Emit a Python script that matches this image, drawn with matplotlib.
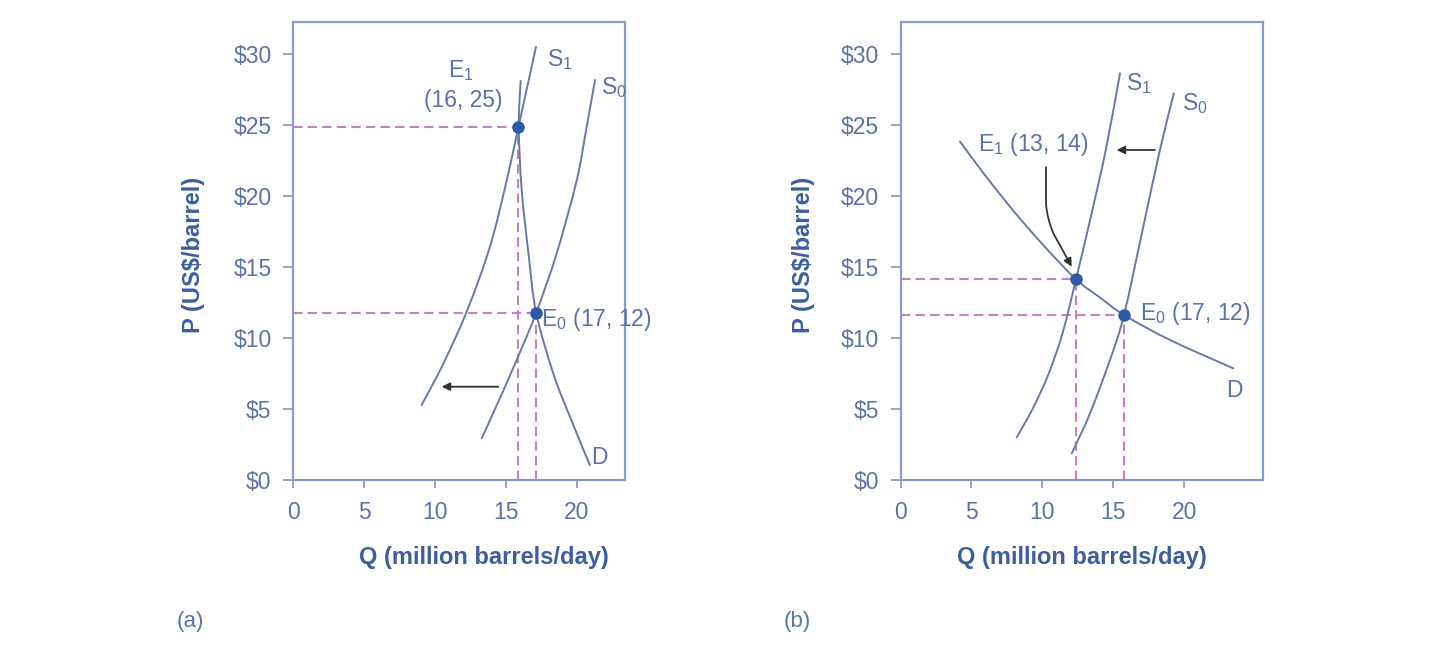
import matplotlib
matplotlib.use("Agg")
import matplotlib.pyplot as plt
from matplotlib.path import Path
from matplotlib.patches import PathPatch

plt.rcParams['font.family'] = ['Liberation Sans', 'DejaVu Sans']
plt.rcParams['mathtext.fontset'] = 'custom'
plt.rcParams['mathtext.rm'] = 'Liberation Sans'

# ---------------- data ----------------
x_ticks = [0, 5, 10, 15, 20]
x_tick_labels = ['0', '5', '10', '15', '20']
y_ticks = [0, 5, 10, 15, 20, 25, 30]
y_tick_labels = ['$0', '$5', '$10', '$15', '$20', '$25', '$30']

# panel (a)
a_s1_q = [9.06, 10.59, 12.23, 13.87, 15.05, 15.87, 16.5, 17.11]
a_s1_p = [5.28, 8.2, 11.85, 16.43, 21.1, 24.84, 27.7, 30.5]
a_s0_q = [13.29, 14.5, 15.75, 17.11, 18.57, 19.98, 20.65, 21.27]
a_s0_p = [2.93, 5.6, 8.45, 11.74, 15.96, 21.1, 24.7, 28.17]
a_d_q = [16.03, 15.9, 16.1, 16.6, 17.13, 18.33, 19.5, 20.9]
a_d_p = [28.1, 24.88, 20.5, 15.8, 11.75, 7.5, 4.46, 1.06]
a_e1 = (15.87, 24.88)
a_e0 = (17.13, 11.75)
a_arrow = ((14.46, 6.57), (10.47, 6.57))

# panel (b)
b_s1_q = [8.18, 9.3, 10.4, 11.4, 12.36, 13.35, 14.45, 15.46]
b_s1_p = [3.0, 5.0, 7.4, 10.3, 14.13, 18.3, 23.2, 28.64]
b_s0_q = [12.06, 13.35, 14.75, 15.74, 17.1, 18.27, 19.25]
b_s0_p = [1.88, 4.7, 8.45, 11.62, 17.84, 23.24, 27.23]
b_d_q = [4.19, 6.0, 8.0, 10.0, 12.36, 14.05, 15.74, 18.98, 23.44]
b_d_p = [23.83, 21.4, 18.9, 16.6, 14.13, 12.85, 11.62, 9.86, 7.86]
b_e1 = (12.36, 14.13)
b_e0 = (15.74, 11.62)
b_arrow = ((17.92, 23.24), (15.22, 23.24))
b_pointer_q = [10.25, 10.25, 10.35, 10.8, 12.06]
b_pointer_p = [22.07, 19.4, 18.3, 17.3, 15.02]

# ---------------- style ----------------
curve_c = '#6a78a8'
spine_c = '#8a9bcb'
tick_c = '#5a72a8'
label_c = '#3d5e9e'
dot_c = '#2e5ba8'
dash_c = '#c47fc8'
arrow_c = '#333333'

fig = plt.figure(figsize=(14.4, 6.62), dpi=100)
ax1 = fig.add_axes([293 / 1440, 182 / 662, 332 / 1440, 458 / 662])
ax2 = fig.add_axes([900.5 / 1440, 182 / 662, 362.5 / 1440, 458 / 662])


def smooth_path(qs, ps):
    """Cubic Bezier path passing through the given points (Catmull-Rom tangents)."""
    pts = list(zip(qs, ps))
    verts = [pts[0]]
    codes = [Path.MOVETO]
    n = len(pts)
    for i in range(n - 1):
        p0 = pts[i - 1] if i > 0 else pts[i]
        p1 = pts[i]
        p2 = pts[i + 1]
        p3 = pts[i + 2] if i + 2 < n else pts[i + 1]
        c1 = (p1[0] + (p2[0] - p0[0]) / 6, p1[1] + (p2[1] - p0[1]) / 6)
        c2 = (p2[0] - (p3[0] - p1[0]) / 6, p2[1] - (p3[1] - p1[1]) / 6)
        verts += [c1, c2, p2]
        codes += [Path.CURVE4] * 3
    return Path(verts, codes)


def curve(ax, qs, ps, color=curve_c, lw=1.4, z=3):
    ax.add_patch(PathPatch(smooth_path(qs, ps), fill=False, edgecolor=color,
                           lw=lw, zorder=z, capstyle='round'))


def style_axes(ax, xmax):
    ax.set_xlim(0, xmax)
    ax.set_ylim(0, 32.25)
    for s in ax.spines.values():
        s.set_color(spine_c)
        s.set_linewidth(1.6)
    ax.set_xticks(x_ticks)
    ax.set_xticklabels(x_tick_labels)
    ax.set_yticks(y_ticks)
    ax.set_yticklabels(y_tick_labels)
    ax.tick_params(axis='y', direction='out', length=7.5, width=1.3,
                   color=spine_c, labelcolor=tick_c, labelsize=16.5, pad=8)
    ax.tick_params(axis='x', direction='out', length=6, width=1.3,
                   color=spine_c, labelcolor=tick_c, labelsize=16.5, pad=9)


def dashed(ax, pt):
    kw = dict(color=dash_c, lw=1.5, dashes=(4.5, 2.5), zorder=2)
    ax.plot([0, pt[0]], [pt[1], pt[1]], **kw)
    ax.plot([pt[0], pt[0]], [0, pt[1]], **kw)


def arrow(ax, start, end):
    ax.annotate('', xy=end, xytext=start,
                arrowprops=dict(arrowstyle='-|>', color=arrow_c, lw=1.3,
                                mutation_scale=12, shrinkA=0, shrinkB=0))


tkw = dict(color=tick_c, fontsize=16.5)

# ---- panel (a)
style_axes(ax1, 23.38)
dashed(ax1, a_e1)
dashed(ax1, a_e0)
for q, p in [(a_s1_q, a_s1_p), (a_s0_q, a_s0_p), (a_d_q, a_d_p)]:
    curve(ax1, q, p)
for e in (a_e1, a_e0):
    ax1.plot(*e, 'o', color=dot_c, ms=8, zorder=4)
arrow(ax1, *a_arrow)
ax1.text(17.9, 29.6, r'S$_\mathregular{1}$', ha='left', va='center', **tkw)
ax1.text(21.7, 27.6, r'S$_\mathregular{0}$', ha='left', va='center', **tkw)
ax1.text(11.8, 28.8, r'E$_\mathregular{1}$', ha='center', va='center', **tkw)
ax1.text(12.0, 26.7, '(16, 25)', ha='center', va='center', **tkw)
ax1.text(17.45, 11.3, r'E$_\mathregular{0}$ (17, 12)', ha='left', va='center', **tkw)
ax1.text(21.0, 1.6, 'D', ha='left', va='center', **tkw)
ax1.set_ylabel('P (US$/barrel)', color=label_c, fontsize=17, fontweight='bold')
ax1.yaxis.set_label_coords(-0.265, 0.492)
ax1.text(0.575, -0.17, 'Q (million barrels/day)', transform=ax1.transAxes,
         ha='center', va='center', color=label_c, fontsize=17, fontweight='bold')

# ---- panel (b)
style_axes(ax2, 25.53)
dashed(ax2, b_e1)
dashed(ax2, b_e0)
for q, p in [(b_s1_q, b_s1_p), (b_s0_q, b_s0_p), (b_d_q, b_d_p)]:
    curve(ax2, q, p)
for e in (b_e1, b_e0):
    ax2.plot(*e, 'o', color=dot_c, ms=8, zorder=4)
arrow(ax2, *b_arrow)
# bent pointer: straight drop, smooth bend, then arrow to E1
ptr = Path([(b_pointer_q[0], b_pointer_p[0]), (b_pointer_q[1], b_pointer_p[1]),
            (b_pointer_q[2], b_pointer_p[2]), (b_pointer_q[3], b_pointer_p[3])],
           [Path.MOVETO, Path.LINETO, Path.CURVE3, Path.CURVE3])
ax2.add_patch(PathPatch(ptr, fill=False, edgecolor=arrow_c, lw=1.3, zorder=3))
arrow(ax2, (b_pointer_q[3], b_pointer_p[3]), (b_pointer_q[4], b_pointer_p[4]))
ax2.text(15.9, 27.9, r'S$_\mathregular{1}$', ha='left', va='center', **tkw)
ax2.text(19.85, 26.5, r'S$_\mathregular{0}$', ha='left', va='center', **tkw)
ax2.text(5.45, 23.6, r'E$_\mathregular{1}$ (13, 14)', ha='left', va='center', **tkw)
ax2.text(16.85, 11.75, r'E$_\mathregular{0}$ (17, 12)', ha='left', va='center', **tkw)
ax2.text(22.9, 6.3, 'D', ha='left', va='center', **tkw)
ax2.set_ylabel('P (US$/barrel)', color=label_c, fontsize=17, fontweight='bold')
ax2.yaxis.set_label_coords(-0.237, 0.492)
ax2.text(0.50, -0.17, 'Q (million barrels/day)', transform=ax2.transAxes,
         ha='center', va='center', color=label_c, fontsize=17, fontweight='bold')

fig.text(190 / 1440, 1 - 622 / 662, '(a)', ha='center', va='center', color=tick_c, fontsize=16)
fig.text(797 / 1440, 1 - 622 / 662, '(b)', ha='center', va='center', color=tick_c, fontsize=16)

fig.savefig('out.png', dpi=100)
